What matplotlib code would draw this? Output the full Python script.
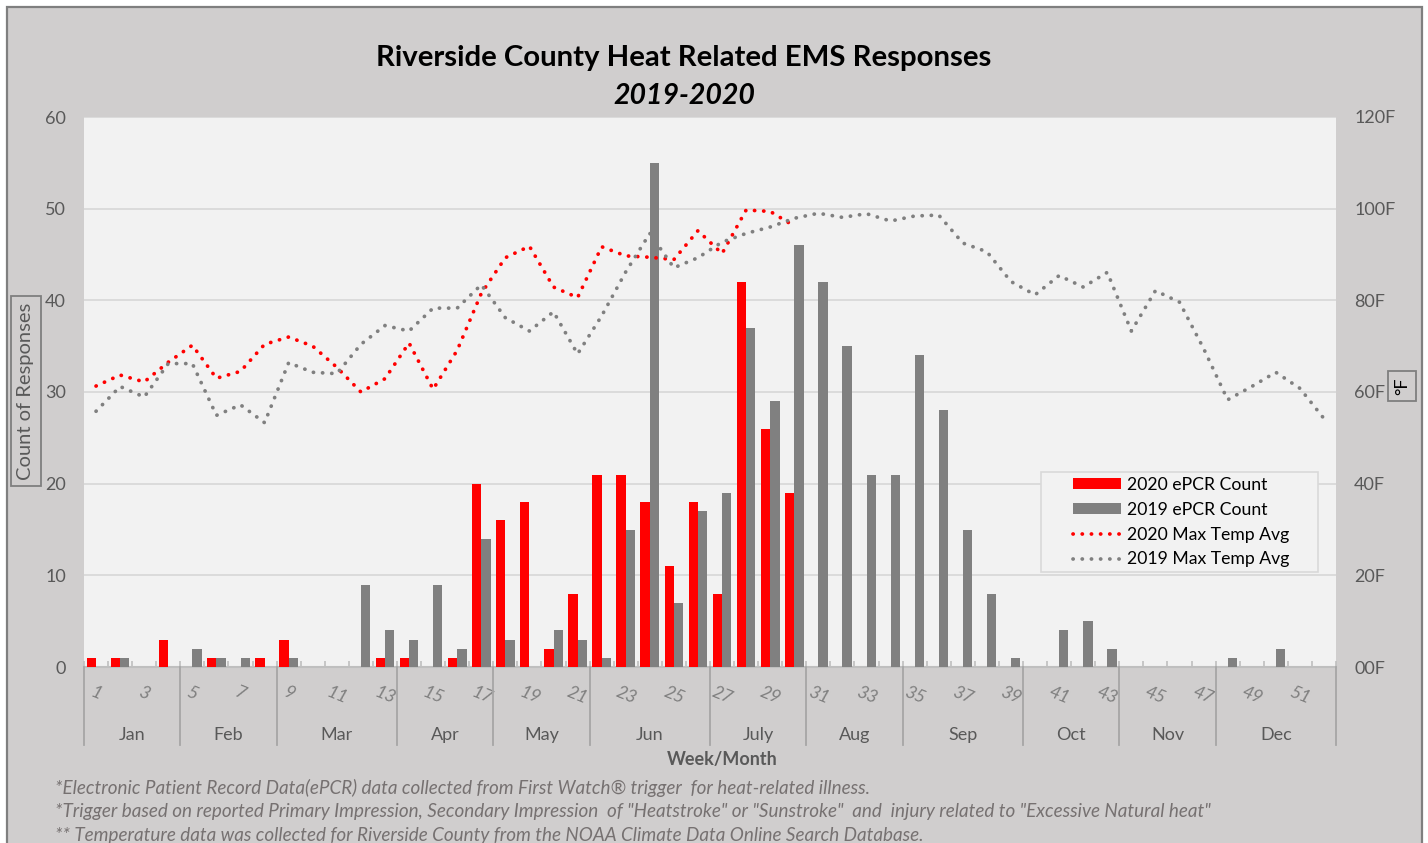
import matplotlib
matplotlib.use("Agg")
import matplotlib.pyplot as plt
from matplotlib.patches import Rectangle, Patch
from matplotlib.lines import Line2D
import matplotlib.transforms as mtransforms

# ---------------- data ----------------
weeks = list(range(1, 53))
week_labels = [str(w) for w in range(1, 53, 2)]
months = ["Jan", "Feb", "Mar", "Apr", "May", "Jun", "July", "Aug", "Sep", "Oct", "Nov", "Dec"]
month_weeks = [4, 4, 5, 4, 4, 5, 4, 4, 5, 4, 4, 5]

epcr_2020 = [1, 1, 0, 3, 0, 1, 0, 1, 3, 0, 0, 0, 1, 1, 0, 1, 20, 16, 18, 2,
             8, 21, 21, 18, 11, 18, 8, 42, 26, 19, 0, 0, 0, 0, 0, 0, 0, 0, 0, 0,
             0, 0, 0, 0, 0, 0, 0, 0, 0, 0, 0, 0]
epcr_2019 = [0, 1, 0, 0, 2, 1, 1, 0, 1, 0, 0, 9, 4, 3, 9, 2, 14, 3, 0, 4,
             3, 1, 15, 55, 7, 17, 19, 37, 29, 46, 42, 35, 21, 21, 34, 28, 15, 8, 1, 0,
             4, 5, 2, 0, 0, 0, 0, 1, 0, 2, 0, 0]
temp_2020 = [61.3, 63.7, 62.2, 66.5, 70.2, 63.0, 64.5, 70.4, 72.0, 70.0,
             65.4, 60.0, 62.9, 70.7, 60.6, 69.1, 81.5, 89.3, 91.8, 82.9,
             80.6, 91.7, 89.7, 89.4, 88.9, 95.2, 90.2, 99.7, 99.4, 96.2]
temp_2019 = [55.8, 61.2, 58.9, 66.2, 66.2, 54.9, 57.2, 53.3, 66.4, 64.3,
             64.0, 70.4, 74.5, 73.3, 78.3, 78.3, 83.4, 76.2, 73.3, 77.5,
             68.3, 76.6, 86.2, 94.6, 87.1, 89.3, 92.7, 94.6, 96.0, 97.9,
             99.0, 98.1, 98.9, 97.3, 98.4, 98.6, 92.5, 90.6, 84.1, 81.2,
             85.4, 82.9, 86.1, 73.3, 82.1, 79.6, 69.5, 58.3, 61.2, 64.3,
             60.8, 54.2]
left_ticks = [0, 10, 20, 30, 40, 50, 60]
right_ticks = [0, 20, 40, 60, 80, 100, 120]
right_labels = ["00F", "20F", "40F", "60F", "80F", "100F", "120F"]
series_names = ["2020 ePCR Count", "2019 ePCR Count", "2020 Max Temp Avg", "2019 Max Temp Avg"]
footnotes = [
    "*Electronic Patient Record Data(ePCR) data collected from First Watch\u00ae trigger  for heat-related illness.",
    "*Trigger based on reported Primary Impression, Secondary Impression  of \"Heatstroke\" or \"Sunstroke\"  and  injury related to \"Excessive Natural heat\"",
    "** Temperature data was collected for Riverside County from the NOAA Climate Data Online Search Database.",
]

# ---------------- style ----------------
FONT = "Lato"
plt.rcParams["font.family"] = [FONT, "DejaVu Sans"]
RED = "#FF0000"
GRAY = "#808080"
TXT = "#595959"
W, H = 1428, 843

fig = plt.figure(figsize=(W / 100, H / 100), dpi=100)
fig.patch.set_facecolor("white")
fig.patches.append(Rectangle((7 / W, -0.02), (1422 - 7) / W, 1 - 7 / H + 0.02,
                             transform=fig.transFigure, facecolor="#D0CECE",
                             edgecolor="#7F7F7F", lw=1.6, zorder=-10))

ax = fig.add_axes([84 / W, (H - 667) / H, (1336 - 84) / W, (667 - 117) / H])
ax.set_facecolor("#F2F2F2")

bw = 0.387
ax.bar([w - bw for w in weeks], epcr_2020, width=bw, align="edge", color=RED, zorder=3)
ax.bar(weeks, epcr_2019, width=bw, align="edge", color=GRAY, zorder=3)

ax.set_xlim(0.5, 52.5)
ax.set_ylim(0, 60)
ax.set_yticks(left_ticks)
ax.yaxis.grid(True, color="#D9D9D9", lw=1.3, zorder=0)
ax.set_axisbelow(True)
for s in ["left", "right", "top"]:
    ax.spines[s].set_visible(False)
ax.spines["bottom"].set_color("#BFBFBF")
ax.spines["bottom"].set_linewidth(1.5)
ax.tick_params(axis="y", length=0, labelsize=13, labelcolor=TXT, pad=13)

ax.set_xticks(list(range(1, 53, 2)))
ax.set_xticklabels(week_labels, rotation=-22, style="italic", color="#7F7F7F",
                   fontsize=13, ha="center", va="top")
ax.tick_params(axis="x", which="major", length=0, pad=12)
ax.set_xticks([w + 0.5 for w in range(0, 53)], minor=True)
ax.tick_params(axis="x", which="minor", direction="in", length=4, color="#BFBFBF", width=1.2)

# month separators and labels
trans = mtransforms.blended_transform_factory(ax.transData, ax.transAxes)
bounds = [0.5]
for n in month_weeks:
    bounds.append(bounds[-1] + n)
for b in bounds:
    ax.plot([b, b], [0, -(745 - 667) / 550], transform=trans, color="#A6A6A6",
            lw=1.3, clip_on=False, zorder=5)
for m, a, b in zip(months, bounds[:-1], bounds[1:]):
    ax.text((a + b) / 2, -(735 - 667) / 550, m, transform=trans, ha="center",
            va="center", fontsize=13, color=TXT)

# temperature lines on secondary axis
ax2 = ax.twinx()
ax2.set_ylim(0, 120)
ax2.set_yticks(right_ticks)
ax2.set_yticklabels(right_labels)
ax2.tick_params(axis="y", length=0, labelsize=13, labelcolor=TXT, pad=13)
for s in ax2.spines.values():
    s.set_visible(False)
dot = (0, (0.05, 2.4))
LW = 2.7
ax2.plot(weeks[:len(temp_2020)], temp_2020, color=RED, lw=LW, linestyle=dot,
         dash_capstyle="round", zorder=4)
ax2.plot(weeks, temp_2019, color=GRAY, lw=LW, linestyle=dot,
         dash_capstyle="round", zorder=4)

# legend
fig.patches.append(Rectangle((1041 / W, 1 - 572 / H), (1318 - 1041) / W, 100 / H,
                             transform=fig.transFigure, facecolor="#F2F2F2",
                             edgecolor="#D9D9D9", lw=1.2, zorder=4))
handles = [Patch(facecolor=RED), Patch(facecolor=GRAY),
           Line2D([], [], color=RED, lw=LW, linestyle=dot, dash_capstyle="round"),
           Line2D([], [], color=GRAY, lw=LW, linestyle=dot, dash_capstyle="round")]
leg = fig.legend(handles, series_names, loc="upper left",
                 bbox_to_anchor=(1073 / W, 1 - 477 / H), bbox_transform=fig.transFigure,
                 frameon=False, fontsize=12.7, handlelength=2.7, handleheight=0.55,
                 handletextpad=0.35, labelspacing=0.5, borderpad=0, borderaxespad=0)
leg.set_zorder(6)

# texts
fig.text(684 / W, 1 - 58 / H, "Riverside County Heat Related EMS Responses",
         ha="center", va="center", fontsize=21.2, fontweight="bold", color="black")
fig.text(684 / W, 1 - 96 / H, "2019-2020", ha="center", va="center", fontsize=20.5,
         fontweight="bold", style="italic", color="black")
fig.text(26 / W, 1 - 391 / H, "Count of Responses", rotation=90, ha="center",
         va="center", fontsize=14.5, color=TXT,
         bbox=dict(boxstyle="square,pad=0.3", fc="none", ec="#7F7F7F", lw=1.3))
fig.text(1402 / W, 1 - 386 / H, "\u00b0F", rotation=90, ha="center", va="center",
         fontsize=13, color="black",
         bbox=dict(boxstyle="square,pad=0.35", fc="none", ec="#7F7F7F", lw=1.3))
fig.text(722 / W, 1 - 760 / H, "Week/Month", ha="center", va="center",
         fontsize=13, fontweight="bold", color=TXT)
for i, line in enumerate(footnotes):
    fig.text(55 / W, 1 - (788 + 23.5 * i) / H, line, ha="left", va="center",
             fontsize=13.6, style="italic", color="#767171")

fig.savefig("out.png", dpi=100, facecolor=fig.get_facecolor())
